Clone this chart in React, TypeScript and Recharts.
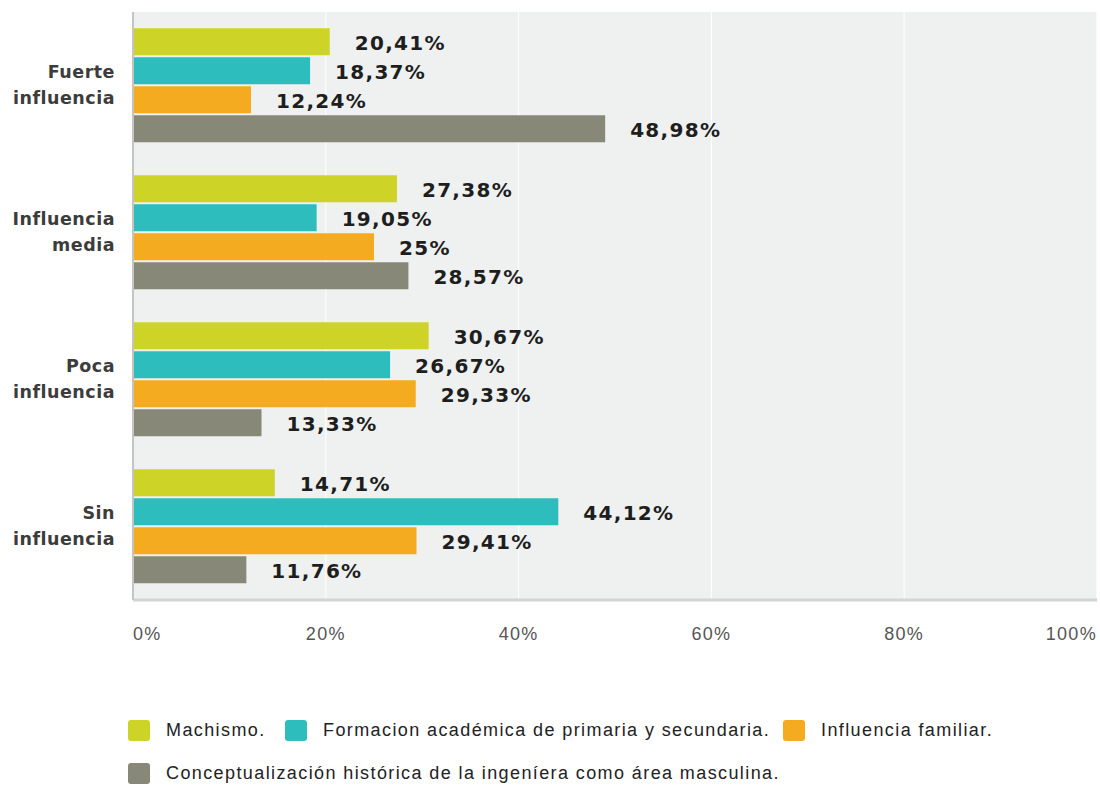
import React from 'react';
import { BarChart, Bar, XAxis, YAxis, CartesianGrid, LabelList } from 'recharts';

const categories = ['Fuerte influencia', 'Influencia media', 'Poca influencia', 'Sin influencia'];
const categoryLines = [['Fuerte', 'influencia'], ['Influencia', 'media'], ['Poca', 'influencia'], ['Sin', 'influencia']];
const seriesNames = [
  'Machismo.',
  'Formacion académica de primaria y secundaria.',
  'Influencia familiar.',
  'Conceptualización histórica de la ingeníera como área masculina.',
];
const seriesColors = ['#cdd427', '#2ebdbd', '#f5ab1f', '#888878'];
const machismo = [20.41, 27.38, 30.67, 14.71];
const formacion = [18.37, 19.05, 26.67, 44.12];
const familiar = [12.24, 25, 29.33, 29.41];
const conceptualizacion = [48.98, 28.57, 13.33, 11.76];
const xTicks = [0, 20, 40, 60, 80, 100];

const seriesValues = [machismo, formacion, familiar, conceptualizacion];
const data = categories.map((c, i) => {
  const row: any = { cat: c };
  seriesValues.forEach((vals, s) => {
    row['s' + s] = vals[i];
  });
  return row;
});

const fmt = (v: number) => String(v).replace('.', ',') + '%';

const ValueLabel = (props: any) => {
  const { x, y, width, height, value } = props;
  return (
    <text
      x={Number(x) + Number(width) + 25}
      y={Number(y) + Number(height) / 2 + 1}
      dominantBaseline="central"
      fontFamily="DejaVu Sans"
      fontWeight="bold"
      fontSize={20}
      letterSpacing={1.3}
      fill="#1e1e1e"
    >
      {fmt(value)}
    </text>
  );
};

const YTick = (props: any) => {
  const { y, payload } = props;
  const idx = categories.indexOf(payload.value);
  const lines = categoryLines[idx] || [payload.value];
  return (
    <text
      x={115}
      y={y}
      textAnchor="end"
      fontFamily="DejaVu Sans"
      fontWeight="bold"
      fontSize={17.5}
      letterSpacing={0.5}
      fill="#3c3c3c"
    >
      {lines.map((l: string, i: number) => (
        <tspan key={i} x={115} dy={i === 0 ? -8 : 26}>
          {l}
        </tspan>
      ))}
    </text>
  );
};

const XTick = (props: any) => {
  const { x, y, payload } = props;
  const v = payload.value;
  const anchor = v === 0 ? 'start' : v === 100 ? 'end' : 'middle';
  return (
    <text
      x={x}
      y={y + 32}
      textAnchor={anchor}
      fontFamily="Liberation Sans"
      fontSize={18}
      letterSpacing={1.3}
      fill="#555"
    >
      {v + '%'}
    </text>
  );
};

export default function App() {
  return (
    <div style={{ position: 'absolute', left: 0, top: 0, width: 1100, height: 785, background: '#fff' }}>
      <BarChart
        width={1100}
        height={785}
        data={data}
        layout="vertical"
        margin={{ top: 12, right: 3, bottom: 145, left: 0 }}
        barCategoryGap="11%"
        barGap={2}
      >
        <CartesianGrid horizontal={false} stroke="#ffffff" fill="#eff1f0" />
        <XAxis
          type="number"
          domain={[0, 100]}
          ticks={xTicks}
          tick={<XTick />}
          tickLine={false}
          axisLine={{ stroke: '#d4d4d4', strokeWidth: 3 }}
          height={40}
          interval={0}
        />
        <YAxis
          type="category"
          dataKey="cat"
          width={133}
          tick={<YTick />}
          tickLine={false}
          axisLine={{ stroke: '#c4c4c4', strokeWidth: 2 }}
        />
        {seriesNames.map((n, s) => (
          <Bar key={s} dataKey={'s' + s} name={n} fill={seriesColors[s]} isAnimationActive={false}>
            <LabelList dataKey={'s' + s} content={<ValueLabel />} />
          </Bar>
        ))}
      </BarChart>
      {[
        { s: 0, left: 128, top: 720 },
        { s: 1, left: 285, top: 720 },
        { s: 2, left: 783, top: 720 },
        { s: 3, left: 128, top: 763 },
      ].map(({ s, left, top }) => (
        <div
          key={s}
          style={{
            position: 'absolute',
            left,
            top,
            display: 'flex',
            alignItems: 'center',
            fontFamily: 'Liberation Sans',
            fontSize: 18,
            letterSpacing: 1.4,
            color: '#222',
            whiteSpace: 'nowrap',
          }}
        >
          <span
            style={{
              display: 'inline-block',
              width: 22,
              height: 21,
              borderRadius: 3,
              background: seriesColors[s],
              marginRight: 16,
            }}
          />
          <span>{seriesNames[s]}</span>
        </div>
      ))}
    </div>
  );
}
